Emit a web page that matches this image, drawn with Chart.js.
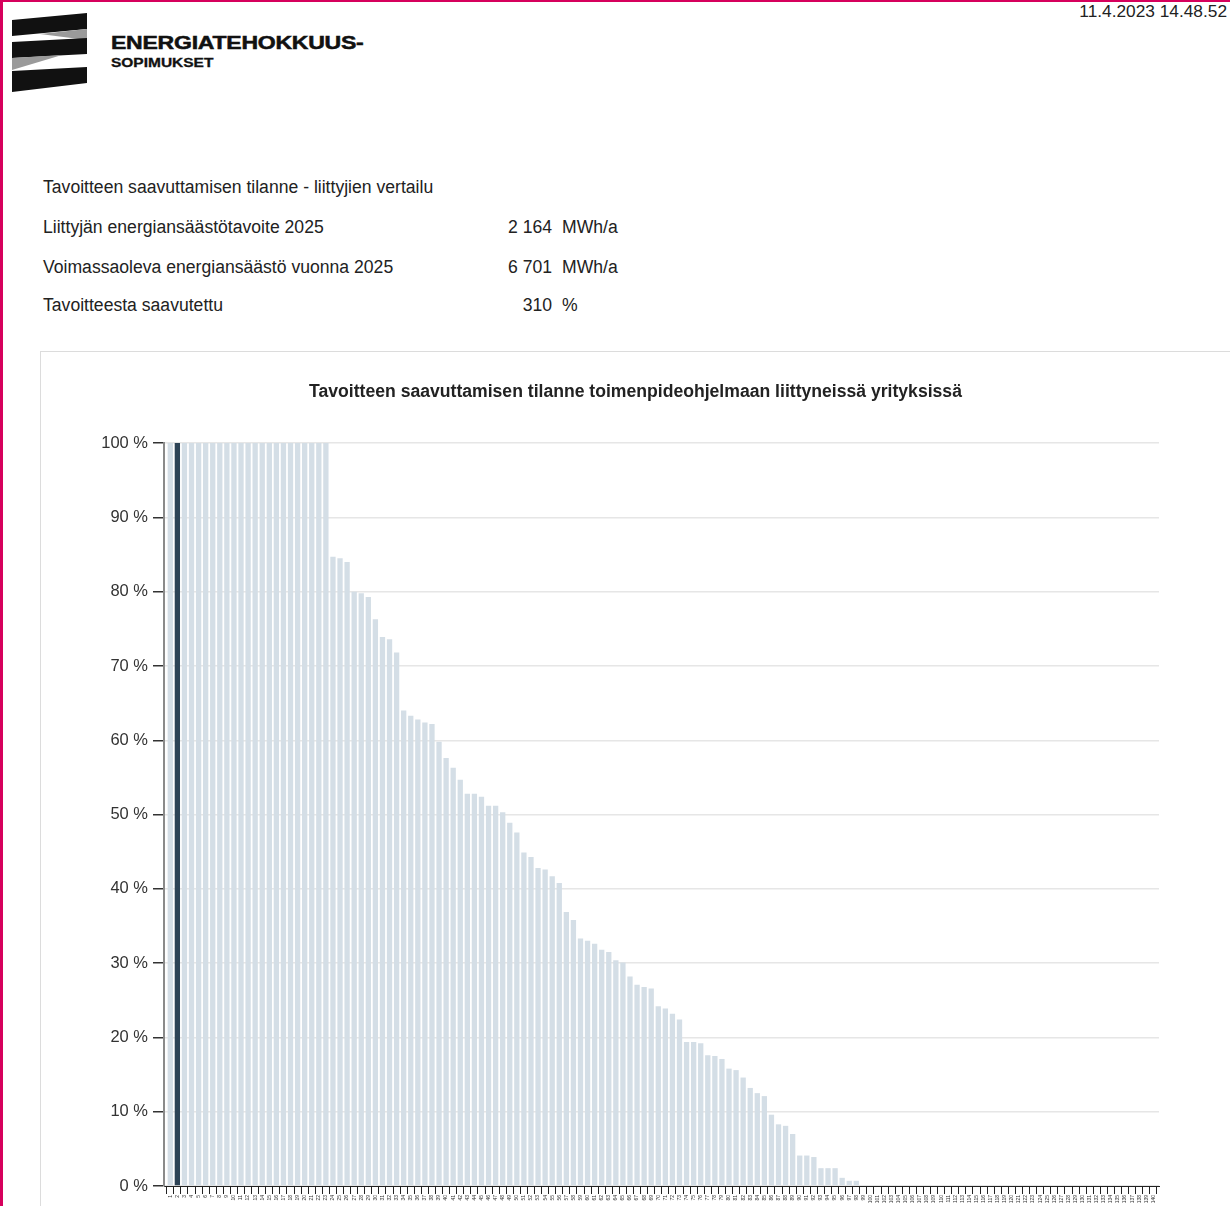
<!DOCTYPE html>
<html>
<head>
<meta charset="utf-8">
<script src="https://cdn.jsdelivr.net/npm/chart.js@4.4.0/dist/chart.umd.min.js"></script>
<style>
    html, body { margin: 0; padding: 0; }
    body {
        width: 1230px; height: 1206px; overflow: hidden; position: relative;
        background: #fff; font-family: "Liberation Sans", Arial, sans-serif; color: #222;
    }
    .edge-top { position: absolute; left: 0; top: 0; width: 1230px; height: 2px; background: #d6005c; }
    .edge-left { position: absolute; left: 0; top: 0; width: 3px; height: 1206px; background: #d6005c; }
    .logo { position: absolute; left: 0; top: 0; }
    .brand1 { position: absolute; left: 111px; top: 33px; font-weight: bold; font-size: 18px; color: #111;
        transform: scaleX(1.28); transform-origin: left top; white-space: nowrap; letter-spacing: -0.2px;
        -webkit-text-stroke: 0.5px #111; }
    .brand2 { position: absolute; left: 111px; top: 56px; font-weight: bold; font-size: 12px; color: #111;
        transform: scaleX(1.29); transform-origin: left top; white-space: nowrap; -webkit-text-stroke: 0.3px #111; }
    .stamp { position: absolute; right: 3px; top: 1px; font-size: 17.3px; color: #222; }
    .row { position: absolute; left: 43px; font-size: 17.6px; color: #222; white-space: nowrap; }
    .num { position: absolute; width: 90px; left: 462px; text-align: right; font-size: 17.6px; color: #222; }
    .unit { position: absolute; left: 562px; font-size: 17.6px; color: #222; }
    .box { position: absolute; left: 40px; top: 351px; width: 1200px; height: 900px; border: 1px solid #dcdcdc; }
    #chart { position: absolute; left: 0; top: 0; }
</style>
</head>
<body>
<div class="edge-top"></div>
<div class="edge-left"></div>

<svg class="logo" width="100" height="100">
    <polygon points="12,20 87,13 87,29 12,36" fill="#111"/>
    <polygon points="40,34 87,29 87,40" fill="#9a9a9a"/>
    <polygon points="12,42 87,38 87,54 12,58" fill="#111"/>
    <polygon points="12,58 62,55 12,70" fill="#9a9a9a"/>
    <polygon points="12,71 87,67 87,83 12,92" fill="#111"/>
</svg>
<div class="brand1">ENERGIATEHOKKUUS-</div>
<div class="brand2">SOPIMUKSET</div>
<div class="stamp">11.4.2023 14.48.52</div>

<div class="row" style="top:177px">Tavoitteen saavuttamisen tilanne - liittyjien vertailu</div>
<div class="row" style="top:217px">Liittyjän energiansäästötavoite 2025</div>
<div class="num" style="top:217px">2 164</div>
<div class="unit" style="top:217px">MWh/a</div>
<div class="row" style="top:257px">Voimassaoleva energiansäästö vuonna 2025</div>
<div class="num" style="top:257px">6 701</div>
<div class="unit" style="top:257px">MWh/a</div>
<div class="row" style="top:295px">Tavoitteesta saavutettu</div>
<div class="num" style="top:295px">310</div>
<div class="unit" style="top:295px">%</div>

<div class="box">
    <canvas id="chart" width="1189" height="854" style="width:1189px;height:854px"></canvas>
</div>

<script>
const chartTitle = 'Tavoitteen saavuttamisen tilanne toimenpideohjelmaan liittyneissä yrityksissä'

// achieved share of target per company, % (capped at 100)
const achieved = [
    100, 100, 100, 100, 100, 100, 100, 100, 100, 100,
    100, 100, 100, 100, 100, 100, 100, 100, 100, 100,
    100, 100, 100, 84.7, 84.5, 84.0, 80.0, 79.8, 79.3, 76.3,
    73.9, 73.6, 71.8, 64.0, 63.3, 62.8, 62.4, 62.2, 59.8, 57.6,
    56.3, 54.7, 52.8, 52.8, 52.4, 51.2, 51.2, 50.3, 48.9, 47.6,
    44.9, 44.3, 42.8, 42.6, 41.7, 40.8, 36.9, 35.8, 33.3, 33.0,
    32.6, 31.8, 31.5, 30.4, 30.1, 28.2, 27.1, 26.8, 26.6, 24.2,
    23.9, 23.2, 22.4, 19.4, 19.4, 19.2, 17.6, 17.5, 17.1, 15.8,
    15.6, 14.6, 13.2, 12.5, 12.1, 9.6, 8.3, 8.1, 7.0, 4.1,
    4.1, 3.9, 2.4, 2.4, 2.4, 1.1, 0.7, 0.7, 0, 0,
    0, 0, 0, 0, 0, 0, 0, 0, 0, 0,
    0, 0, 0, 0, 0, 0, 0, 0, 0, 0,
    0, 0, 0, 0, 0, 0, 0, 0, 0, 0,
    0, 0, 0, 0, 0, 0, 0, 0, 0, 0
]
const ownIndex = 1
const companies = achieved.map((v, i) => String(i + 1))
const yTicks = [0, 10, 20, 30, 40, 50, 60, 70, 80, 90, 100]

const barColors = achieved.map((v, i) => i == ownIndex ? '#2d4356' : '#d4dee6')
const points = achieved.map((v, i) => ({ x: i, y: v }))

var ctx = document.getElementById('chart').getContext('2d');
var myChart = new Chart(ctx, {
    type: 'bar',
    data: {
        datasets: [{
            data: points,
            xAxisID: 'x',
            yAxisID: 'y',
            backgroundColor: barColors,
            borderWidth: 0,
            barPercentage: 0.75,
            categoryPercentage: 1.0
        }]
    },
    options: {
        responsive: false,
        animation: false,
        layout: { padding: 0 },
        plugins: {
            legend: { display: false },
            tooltip: { enabled: false },
            title: {
                display: true,
                text: chartTitle,
                color: '#222',
                font: { family: "'Liberation Sans', Arial, sans-serif", size: 17.6, weight: 'bold' },
                padding: { top: 30, bottom: 40 }
            }
        },
        scales: {
            x: {
                type: 'linear',
                min: -0.89,
                max: 139.8,
                offset: false,
                afterBuildTicks: function (scale) { scale.ticks = companies.map((c, i) => ({ value: i })) },
                grid: { display: true, drawOnChartArea: false, tickColor: '#222', tickLength: 8 },
                border: { color: '#222', width: 1 },
                ticks: {
                    autoSkip: false, maxRotation: 90, minRotation: 90, padding: 1,
                    color: '#333', font: { size: 5, family: 'Liberation Sans' },
                    callback: function (v) { return companies[v] }
                },
                afterFit: function (scale) { scale.height = 20 }
            },
            y: {
                min: 0,
                max: 100,
                afterBuildTicks: function (scale) { scale.ticks = yTicks.map(v => ({ value: v })) },
                grid: { color: '#e6e6e6', tickColor: '#333', tickLength: 11, lineWidth: 1.5 },
                border: { color: '#8a8a8a', width: 2 },
                ticks: {
                    padding: 5, color: '#333',
                    font: { size: 16.5, family: 'Liberation Sans' },
                    callback: function (v) { return v + ' %' }
                },
                afterFit: function (scale) { scale.width = 123 }
            },
            // empty right-hand margin so the title stays centred on the whole box
            yRight: {
                type: 'linear',
                position: 'right',
                min: 0,
                max: 1,
                grid: { display: false },
                border: { display: false },
                ticks: { display: false },
                afterFit: function (scale) { scale.width = 71 }
            }
        }
    }
});
</script>
</body>
</html>
